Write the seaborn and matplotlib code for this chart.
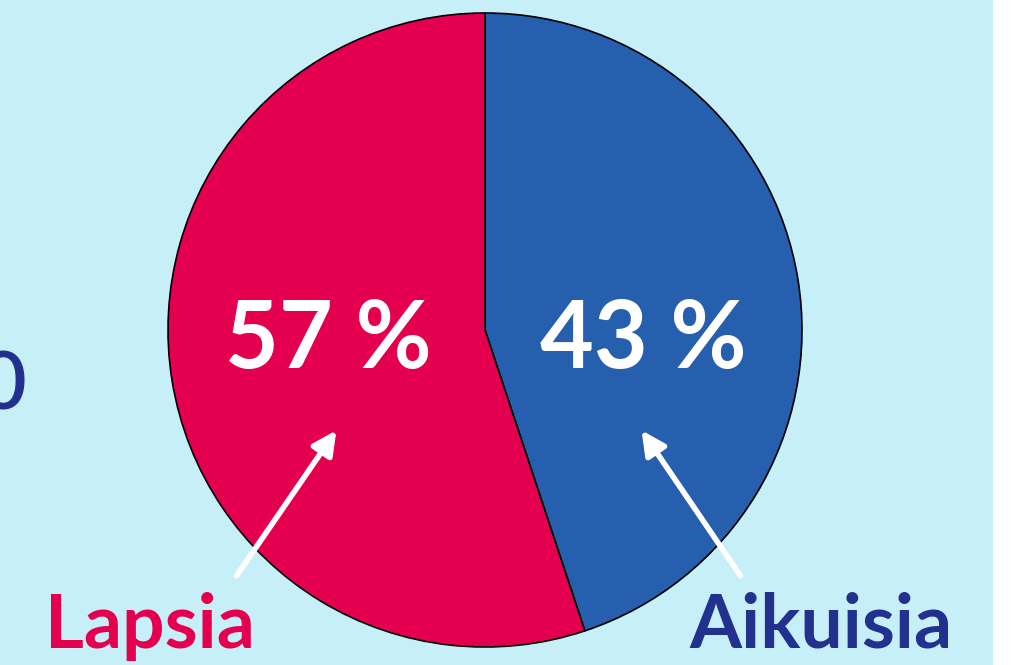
import matplotlib.pyplot as plt
import seaborn as sns
from matplotlib.patches import Rectangle

# shares as drawn (wedge sizes) and the printed labels
groups = ["Aikuisia", "Lapsia"]
shares = [44.9, 55.1]
share_labels = ["43 %", "57 %"]
colors = ["#265fad", "#e4004f"]
name_colors = ["#22318e", "#e4004f"]

sns.set_theme(style="white")
plt.rcParams["font.family"] = ["Lato", "DejaVu Sans"]

fig = plt.figure(figsize=(10.15, 6.65), dpi=100, facecolor="white")
ax = fig.add_axes([0, 0, 1, 1])

# light cyan panel, white strip on the right
ax.add_patch(Rectangle((0, 0), 993, 665, facecolor="#c6eff7", edgecolor="none", zorder=0))

ax.pie(
    shares,
    colors=colors,
    startangle=90,
    counterclock=False,
    center=(485, 335),
    radius=317,
    wedgeprops={"edgecolor": "black", "linewidth": 1.2},
    frame=True,
)
ax.set_xlim(0, 1015)
ax.set_ylim(0, 665)
ax.set_aspect("equal")
ax.axis("off")

# percentages
ax.text(643, 324, share_labels[0], color="white", fontsize=67, fontweight="bold",
        ha="center", va="center")
ax.text(328, 324, share_labels[1], color="white", fontsize=67, fontweight="bold",
        ha="center", va="center")

# arrows
arrow = dict(arrowstyle="-|>,head_length=1.2,head_width=0.6", color="white", lw=4)
ax.annotate("", xy=(338, 237), xytext=(235, 87), arrowprops=arrow)
ax.annotate("", xy=(640, 237), xytext=(742, 87), arrowprops=arrow)

# group names
ax.text(150, 17, groups[1], color=name_colors[1], fontsize=54, fontweight="bold",
        ha="center", va="baseline")
ax.text(821, 17, groups[0], color=name_colors[0], fontsize=54, fontweight="bold",
        ha="center", va="baseline")

# cut-off text on the left edge
ax.text(27, 255, "0", color=name_colors[0], fontsize=58, fontweight="semibold",
        ha="right", va="baseline")

fig.savefig("out.png", dpi=100, facecolor="white")
